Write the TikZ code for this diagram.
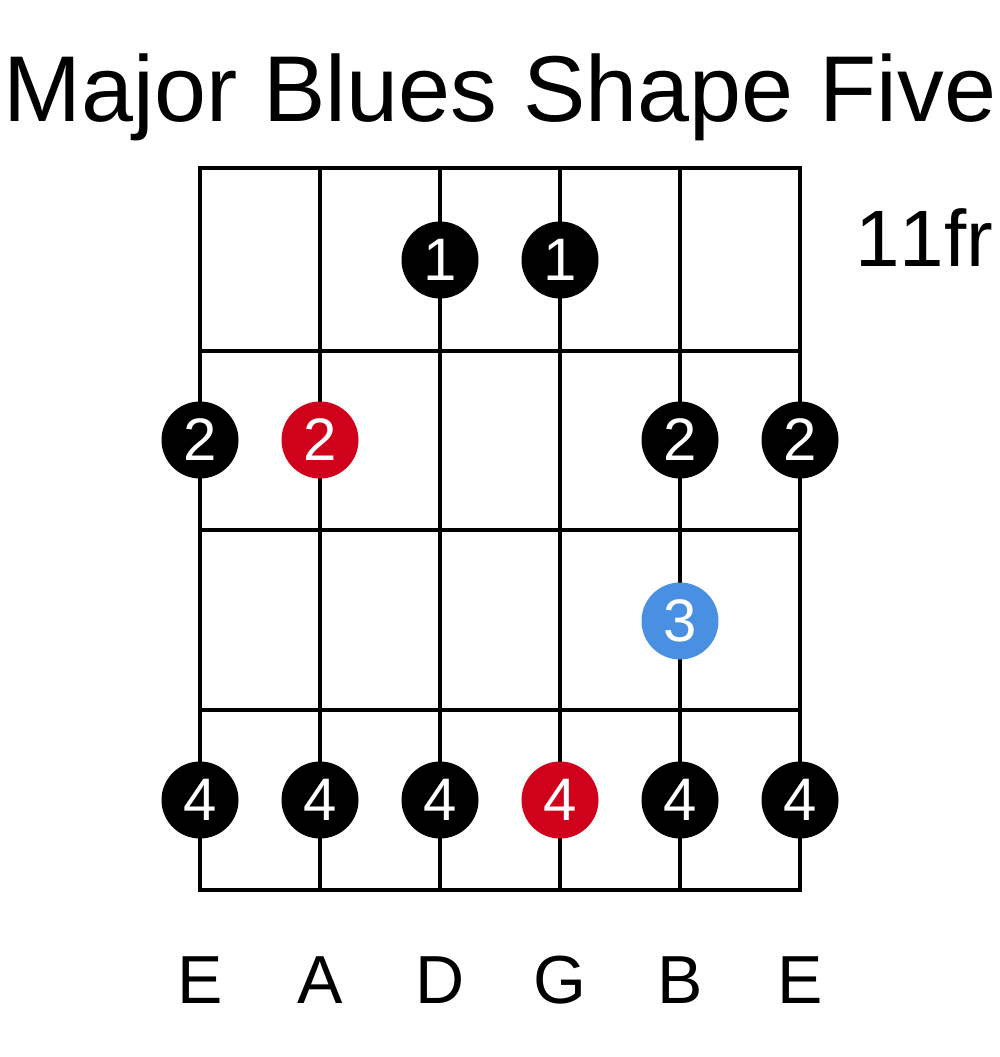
\documentclass[tikz,border=0pt]{standalone}
\usepackage{fontspec}
\setmainfont{Liberation Sans}
\usetikzlibrary{positioning}
\definecolor{bluesred}{HTML}{D0021B}
\definecolor{bluesblue}{HTML}{4A90E2}
\tikzset{
  wire/.style={line width=4pt, line cap=rect},
  dot/.style={circle, fill=black, minimum size=77pt, inner sep=0pt,
    text=white, font=\fontsize{60}{60}\selectfont},
  rootdot/.style={dot, fill=bluesred},
  bluedot/.style={dot, fill=bluesblue},
  stringname/.style={anchor=base, font=\fontsize{68}{68}\selectfont}
}
\begin{document}
\begin{tikzpicture}[x=1pt,y=-1pt]
\useasboundingbox (0,0) rectangle (1000,1057);
% title and position
\node[anchor=base, font=\fontsize{93.5}{93.5}\selectfont] (title) at (500,121) {Major Blues Shape Five};
\node[anchor=base, font=\fontsize{80}{80}\selectfont\addfontfeatures{Kerning=Off}] (pos) at (924,266) {11fr};
% strings and frets
\foreach \x in {200,320,440,560,680,800}
  \draw[wire] (\x,168) -- (\x,890);
\foreach \y in {168,350.5,530,710,890}
  \draw[wire] (200,\y) -- (800,\y);
% fret 1
\node[dot] (d1) at (440,260) {1};
\node[dot] (g1) at (560,260) {1};
% fret 2
\node[dot] (e2) at (200,440) {2};
\node[rootdot] (a2) at (320,440) {2};
\node[dot] (b2) at (680,440) {2};
\node[dot] (hi2) at (800,440) {2};
% fret 3
\node[bluedot] (b3) at (680,621) {3};
% fret 4
\node[dot] (e4) at (200,800) {4};
\node[dot] (a4) at (320,800) {4};
\node[dot] (d4) at (440,800) {4};
\node[rootdot] (g4) at (560,800) {4};
\node[dot] (b4) at (680,800) {4};
\node[dot] (hi4) at (800,800) {4};
% string names
\node[stringname] (lowE) at (200,1003) {E};
\node[stringname] (strA) at (320,1003) {A};
\node[stringname] (strD) at (440,1003) {D};
\node[stringname] (strG) at (560,1003) {G};
\node[stringname] (strB) at (680,1003) {B};
\node[stringname] (highE) at (800,1003) {E};
\end{tikzpicture}
\end{document}
